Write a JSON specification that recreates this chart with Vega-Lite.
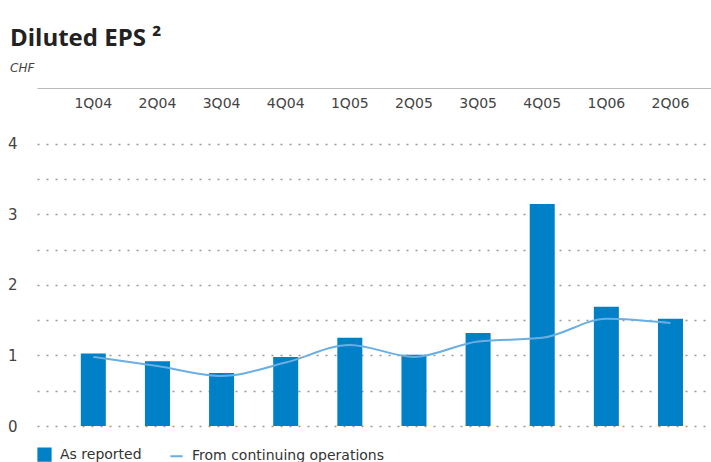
{
  "$schema": "https://vega.github.io/schema/vega-lite/v6.json",
  "width": 674,
  "height": 338,
  "autosize": "none",
  "padding": {"left": 37, "top": 88, "right": 0, "bottom": 36},
  "background": "white",
  "config": {
    "view": {"stroke": null},
    "font": "DejaVu Sans",
    "axis": {"labelFont": "DejaVu Sans", "labelColor": "#444"}
  },
  "title": {
    "text": "Diluted EPS ²",
    "subtitle": "CHF",
    "anchor": "start",
    "frame": "group",
    "dx": -27,
    "offset": 14,
    "font": "Open Sans",
    "fontSize": 24,
    "fontWeight": "bold",
    "color": "#222",
    "subtitleFont": "DejaVu Sans",
    "subtitleFontSize": 12,
    "subtitleFontStyle": "italic",
    "subtitleColor": "#444",
    "subtitlePadding": 12
  },
  "data": {
    "values": [
      {"quarter": "1Q04", "reported": 1.03, "continuing": 0.98},
      {"quarter": "2Q04", "reported": 0.92, "continuing": 0.85},
      {"quarter": "3Q04", "reported": 0.75, "continuing": 0.71},
      {"quarter": "4Q04", "reported": 0.98, "continuing": 0.90},
      {"quarter": "1Q05", "reported": 1.25, "continuing": 1.15},
      {"quarter": "2Q05", "reported": 1.01, "continuing": 0.98},
      {"quarter": "3Q05", "reported": 1.32, "continuing": 1.20},
      {"quarter": "4Q05", "reported": 3.15, "continuing": 1.25},
      {"quarter": "1Q06", "reported": 1.69, "continuing": 1.52},
      {"quarter": "2Q06", "reported": 1.52, "continuing": 1.46}
    ]
  },
  "encoding": {
    "x": {
      "field": "quarter",
      "type": "ordinal",
      "sort": null,
      "scale": {"paddingInner": 0.61, "paddingOuter": 0.56, "align": 0.61},
      "axis": {
        "orient": "top",
        "title": null,
        "ticks": false,
        "domain": true,
        "domainColor": "#bbb",
        "domainWidth": 1,
        "labelAngle": 0,
        "labelBaseline": "top",
        "labelPadding": -8,
        "labelFont": "DejaVu Sans",
        "labelFontSize": 14,
        "labelColor": "#444"
      }
    }
  },
  "layer": [
    {
      "mark": {"type": "bar", "color": "#0080c6"},
      "encoding": {
        "y": {
          "field": "reported",
          "type": "quantitative",
          "scale": {"domain": [0, 4.794], "nice": false},
          "axis": {
            "title": null,
            "values": [0, 0.5, 1, 1.5, 2, 2.5, 3, 3.5, 4],
            "labelExpr": "datum.value % 1 === 0 ? format(datum.value, 'd') : ''",
            "domain": false,
            "ticks": false,
            "labelPadding": 20,
            "labelFont": "DejaVu Sans",
            "labelFontSize": 15,
            "labelColor": "#444",
            "grid": true,
            "gridColor": "#999",
            "gridDash": [2, 7],
            "gridWidth": 1.3
          }
        },
        "color": {
          "datum": "As reported",
          "type": "nominal",
          "scale": {
            "domain": ["As reported", "From continuing operations"],
            "range": ["#0080c6", "#6aaee2"]
          },
          "legend": {
            "title": null,
            "orient": "none",
            "legendX": 0,
            "legendY": 359,
            "direction": "horizontal",
            "columnPadding": 24,
            "symbolSize": 150,
            "labelFont": "DejaVu Sans",
            "labelFontSize": 14,
            "labelColor": "#333",
            "labelLimit": 400,
            "labelOffset": 8,
            "encode": {
              "symbols": {
                "update": {
                  "shape": {"signal": "datum.value === 'As reported' ? 'square' : 'stroke'"},
                  "fill": {"signal": "datum.value === 'As reported' ? '#0080c6' : 'transparent'"},
                  "stroke": {"signal": "datum.value === 'As reported' ? 'transparent' : '#6aaee2'"},
                  "strokeWidth": {"value": 2}
                }
              }
            }
          }
        }
      }
    },
    {
      "mark": {"type": "line", "strokeWidth": 2, "interpolate": "monotone"},
      "encoding": {
        "y": {"field": "continuing", "type": "quantitative"},
        "color": {"datum": "From continuing operations", "type": "nominal"}
      }
    },
    {
      "mark": {"type": "rule", "color": "#888", "strokeWidth": 3},
      "encoding": {"y": {"datum": 0, "type": "quantitative"}}
    }
  ]
}
